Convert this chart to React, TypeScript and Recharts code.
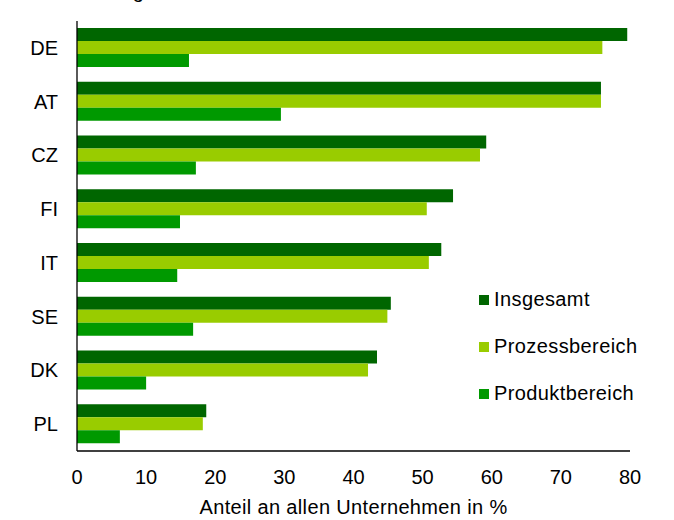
import { BarChart, Bar, XAxis, YAxis, Legend, Label } from "recharts";

const countries = ["DE", "AT", "CZ", "FI", "IT", "SE", "DK", "PL"];
const insgesamt = [79.6, 75.8, 59.2, 54.4, 52.7, 45.4, 43.4, 18.7];
const prozess = [76.0, 75.8, 58.3, 50.6, 50.9, 44.9, 42.1, 18.2];
const produkt = [16.2, 29.5, 17.2, 14.9, 14.5, 16.8, 10.0, 6.2];
const xTicks = [0, 10, 20, 30, 40, 50, 60, 70, 80];

const series = [
  { key: "insgesamt", name: "Insgesamt", color: "#006600" },
  { key: "prozess", name: "Prozessbereich", color: "#99cc00" },
  { key: "produkt", name: "Produktbereich", color: "#009900" },
];

const data = countries.map((c, i) => ({
  country: c,
  insgesamt: insgesamt[i],
  prozess: prozess[i],
  produkt: produkt[i],
}));

const font = "'Liberation Sans', Arial, sans-serif";

function LegendBox() {
  return (
    <div style={{ fontFamily: font, fontSize: 20, color: "#000", letterSpacing: 0.4 }}>
      {series.map((s) => (
        <div
          key={s.key}
          style={{ height: 47, display: "flex", alignItems: "center" }}
        >
          <span
            style={{
              width: 10,
              height: 10,
              background: s.color,
              marginRight: 5,
              display: "inline-block",
            }}
          />
          {s.name}
        </div>
      ))}
    </div>
  );
}

export default function App() {
  return (
    <div style={{ position: "absolute", left: 0, top: 0, width: 674, height: 520 }}>
      {/* title line cut off at the top of the picture */}
      <svg
        width={674}
        height={10}
        style={{ position: "absolute", left: 0, top: 0, zIndex: 2 }}
      >
        <text x={16} y={-2} fontFamily={font} fontSize={20} fill="#000">
          im Ländervergleich
        </text>
      </svg>
      <BarChart
        width={674}
        height={520}
        data={data}
        layout="vertical"
        margin={{ top: 21, right: 44, left: 0, bottom: 0 }}
        barCategoryGap="13%"
        barGap={0}
      >
        <XAxis
          type="number"
          domain={[0, 80]}
          ticks={xTicks}
          height={69}
          axisLine={{ stroke: "#000", strokeWidth: 1.3 }}
          tickLine={false}
          tickSize={0}
          tickMargin={19}
          interval={0}
          tick={{ fill: "#000", fontSize: 20, fontFamily: font }}
        >
          <Label
            value="Anteil an allen Unternehmen in %"
            position="insideBottom"
            offset={6}
            style={{ fill: "#000", fontSize: 20, fontFamily: font, letterSpacing: 0.35 }}
          />
        </XAxis>
        <YAxis
          type="category"
          dataKey="country"
          width={77}
          axisLine={{ stroke: "#000", strokeWidth: 1.3 }}
          tickLine={false}
          tickSize={0}
          tickMargin={19}
          tick={{ fill: "#000", fontSize: 20, fontFamily: font }}
        />
        <Legend
          layout="vertical"
          align="center"
          verticalAlign="middle"
          content={() => <LegendBox />}
          wrapperStyle={{ left: 479, top: 276, width: 190, height: 141 }}
        />
        {series.map((s) => (
          <Bar
            key={s.key}
            dataKey={s.key}
            name={s.name}
            fill={s.color}
            isAnimationActive={false}
          />
        ))}
      </BarChart>
    </div>
  );
}
